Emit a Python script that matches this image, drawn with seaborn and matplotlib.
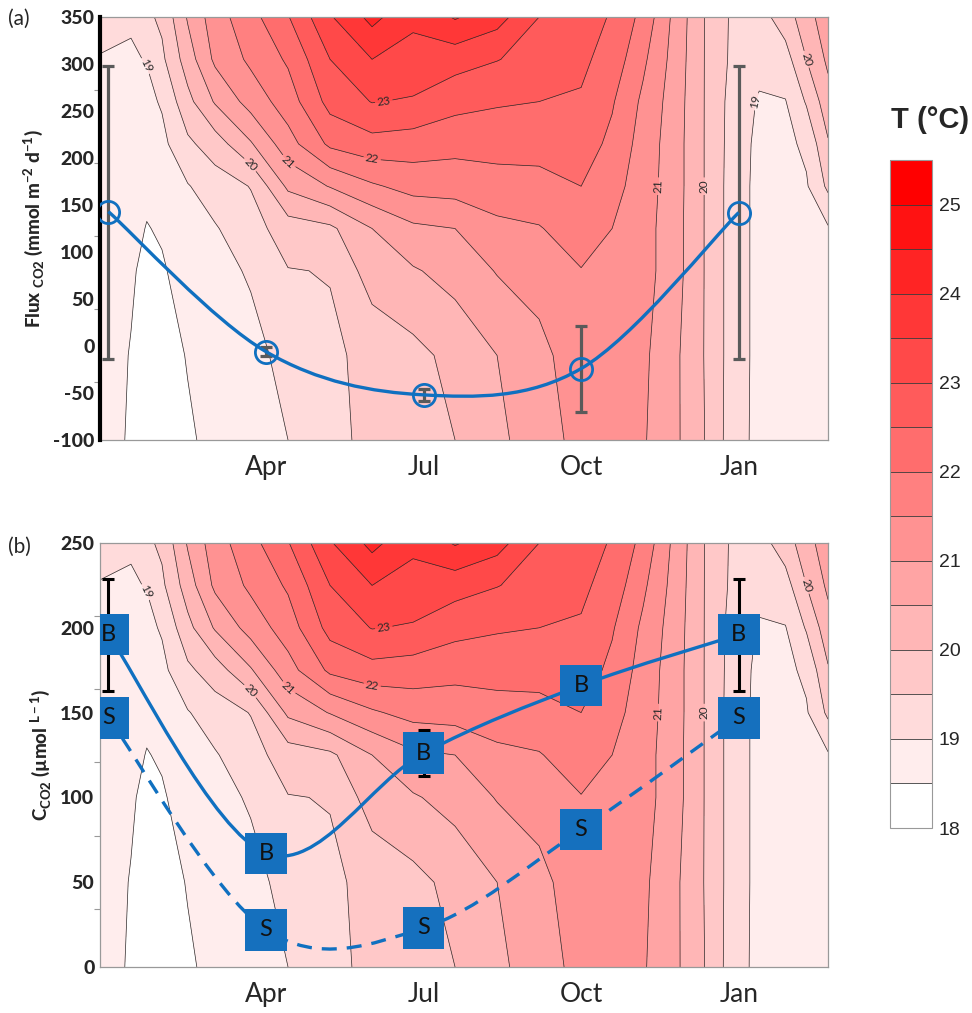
import numpy as np
import matplotlib
matplotlib.use("Agg")
import matplotlib.pyplot as plt
import seaborn as sns
from matplotlib.colors import ListedColormap, BoundaryNorm
from matplotlib.path import Path
from matplotlib.patches import PathPatch

# ---------------- data ----------------
months = [0, 3, 6, 9, 12]                 # sampling dates (months after January)
month_ticks = [3, 6, 9, 12]
month_labels = ["Apr", "Jul", "Oct", "Jan"]

flux = [143, -6, -52, -24, 142]           # Flux CO2 (mmol m-2 d-1)
flux_err_lo = [157, 5, 6, 46, 156]
flux_err_hi = [155, 5, 6, 45, 156]

c_bottom = [196, 67, 126, 166, 196]       # C CO2 bottom (B)
c_bottom_err = [33, 0, 13.5, 0, 33]
c_surface = [147, 22, 23, 81, 147]        # C CO2 surface (S)

# temperature field (deg C): columns = months, rows = relative height in panel (0 bottom, 1 top)
grid_months = [-0.16, 0.43, 0.73, 1.02, 1.51, 2.03, 2.71, 3.42, 4.22, 5.02, 5.80, 6.60,
               7.40, 8.20, 9.00, 9.59, 10.18, 10.79, 11.38, 11.88, 12.39, 12.89, 13.29, 13.70]
grid_height = [0.0, 0.2, 0.4, 0.5, 0.6, 0.7, 0.8, 0.9, 1.0]
temp_h00 = [18.7, 18.45, 18.3, 18.3, 18.45, 18.6, 18.8, 19.0, 19.37, 19.62, 19.81, 20.0, 20.38, 20.78, 21.15, 21.25, 21.05, 20.6, 19.97, 19.25, 18.85, 18.8, 18.85, 18.9]
temp_h02 = [18.7, 18.48, 18.32, 18.35, 18.52, 18.68, 18.85, 19.15, 19.42, 19.62, 19.85, 20.15, 20.5, 20.85, 21.3, 21.35, 21.1, 20.6, 19.95, 19.28, 18.85, 18.8, 18.85, 18.9]
temp_h04 = [18.75, 18.55, 18.4, 18.45, 18.7, 18.85, 19.05, 19.48, 19.52, 20.25, 20.45, 20.68, 21.03, 21.2, 21.48, 21.45, 21.2, 20.7, 19.95, 19.28, 18.85, 18.8, 18.85, 18.9]
temp_h05 = [18.78, 18.65, 18.48, 18.55, 18.82, 18.96, 19.3, 19.75, 19.9, 20.5, 20.9, 21.0, 21.38, 21.47, 21.75, 21.5, 21.2, 20.7, 19.95, 19.28, 18.85, 18.8, 18.9, 18.95]
temp_h06 = [18.8, 18.75, 18.6, 18.7, 18.97, 19.25, 19.52, 20.6, 21.03, 21.43, 21.68, 21.72, 21.78, 21.82, 22.0, 21.68, 21.25, 20.72, 19.95, 19.28, 18.85, 18.82, 18.95, 19.6]
temp_h07 = [18.85, 18.85, 18.75, 18.87, 19.4, 19.75, 20.45, 21.3, 22.1, 22.32, 22.25, 22.15, 22.2, 22.2, 22.25, 21.88, 21.3, 20.72, 19.95, 19.3, 18.87, 18.88, 19.1, 19.95]
temp_h08 = [18.9, 18.92, 18.88, 19.05, 19.85, 20.55, 21.2, 21.75, 22.67, 23.02, 22.95, 22.67, 22.55, 22.5, 22.45, 22.05, 21.4, 20.75, 19.95, 19.32, 18.95, 18.98, 19.55, 20.3]
temp_h09 = [18.97, 18.95, 19.02, 19.4, 20.25, 21.1, 21.6, 22.07, 23.0, 23.5, 23.33, 23.2, 23.02, 22.8, 22.6, 22.3, 21.6, 20.8, 19.95, 19.4, 19.15, 19.3, 20.0, 20.6]
temp_h10 = [19.2, 19.05, 19.4, 19.6, 20.55, 21.27, 21.83, 22.47, 23.45, 24.15, 23.6, 24.05, 23.7, 23.0, 22.75, 22.45, 21.85, 20.85, 19.95, 19.42, 19.3, 19.75, 20.3, 20.8]

temp_levels = list(np.arange(18.0, 25.51, 0.5))
label_levels = [19, 20, 21, 22, 23]
cbar_ticks = [18, 19, 20, 21, 22, 23, 24, 25]
right_tick_height = [0.137, 0.31, 0.483, 0.656, 0.828]

# ---------------- style ----------------
sns.set_theme(style="white")
plt.rcParams["font.family"] = ["Lato", "DejaVu Sans"]
plt.rcParams["mathtext.fontset"] = "custom"
plt.rcParams["mathtext.rm"] = "Lato"
plt.rcParams["mathtext.bf"] = "Lato:black"
plt.rcParams["axes.unicode_minus"] = False

BLUE = "#1070C0"
SQ = "#1570BE"
FRAME = "#999999"

temp_field = np.array([temp_h00, temp_h02, temp_h04, temp_h05, temp_h06,
                       temp_h07, temp_h08, temp_h09, temp_h10])
nbins = len(temp_levels) - 1
colors = [(1.0, 1.0 - i / (nbins - 1), 1.0 - i / (nbins - 1)) for i in range(nbins)]
cmap = ListedColormap(colors)
norm = BoundaryNorm(temp_levels, cmap.N)


def smooth_path(xs, ys):
    pts = np.column_stack([xs, ys]).astype(float)
    n = len(pts)
    verts = [pts[0]]
    codes = [Path.MOVETO]
    for i in range(n - 1):
        p0 = pts[i - 1] if i > 0 else pts[i]
        p1, p2 = pts[i], pts[i + 1]
        p3 = pts[i + 2] if i + 2 < n else pts[i + 1]
        verts += [p1 + (p2 - p0) / 6.0, p2 - (p3 - p1) / 6.0, p2]
        codes += [Path.CURVE4] * 3
    return Path(verts, codes)


fig = plt.figure(figsize=(9.72, 10.13), dpi=100)
axA = fig.add_axes([0.10288, 0.56565, 0.74897, 0.41757])
axB = fig.add_axes([0.10288, 0.04541, 0.74897, 0.41856])


def background(ax):
    cf = ax.contourf(grid_months, grid_height, temp_field, levels=temp_levels,
                     cmap=cmap, norm=norm)
    cs = ax.contour(grid_months, grid_height, temp_field, levels=temp_levels[1:-1],
                    colors="#2a2a2a", linewidths=0.5)
    ax.clabel(cs, levels=label_levels, fmt="%d", fontsize=8.5, inline=True,
              inline_spacing=2)
    ax.set_xlim(grid_months[0], grid_months[-1])
    ax.set_ylim(0, 1)
    ax.set_xticks(month_ticks)
    ax.set_xticklabels(month_labels, fontsize=19)
    ax.tick_params(axis="x", length=0, pad=11)
    ax.yaxis.tick_right()
    ax.set_yticks(right_tick_height)
    ax.set_yticklabels([])
    ax.tick_params(axis="y", direction="out", length=4, width=0.8, color=FRAME)
    for s in ["top", "right", "bottom"]:
        ax.spines[s].set_color(FRAME)
        ax.spines[s].set_linewidth(0.9)
    ax.spines["left"].set_visible(False)
    tw = ax.twinx()
    tw.yaxis.tick_left()
    tw.yaxis.set_label_position("left")
    for s in ["top", "right", "bottom"]:
        tw.spines[s].set_visible(False)
    return cf, tw


# ---------------- panel (a) ----------------
cfA, twA = background(axA)
twA.set_ylim(-100, 350)
twA.set_yticks(np.arange(-100, 351, 50))
twA.tick_params(axis="y", length=0, pad=4, labelsize=14)
for t in twA.get_yticklabels():
    t.set_fontweight("black")
twA.spines["left"].set_color("black")
twA.spines["left"].set_linewidth(3)
twA.set_ylabel(r"Flux$_{\mathbf{\ CO2}}$ (mmol m$^{\mathbf{-2}}$ d$^{\mathbf{-1}}$)",
               fontsize=13.5, fontweight="black", labelpad=5)
twA.errorbar(months, flux, yerr=[flux_err_lo, flux_err_hi], fmt="none",
             ecolor="#5a5a5a", elinewidth=2.3, capsize=4.5, capthick=2.3, zorder=2)
twA.add_patch(PathPatch(smooth_path(months, flux), fill=False, edgecolor=BLUE,
                        linewidth=2.4, zorder=3))
twA.plot(months, flux, linestyle="none", marker="o", ms=16, mfc="none",
         mec=BLUE, mew=2.0, zorder=4)

# ---------------- panel (b) ----------------
cfB, twB = background(axB)
twB.set_ylim(0, 250)
twB.set_yticks(np.arange(0, 251, 50))
twB.tick_params(axis="y", length=0, pad=4, labelsize=14)
for t in twB.get_yticklabels():
    t.set_fontweight("black")
twB.spines["left"].set_color(FRAME)
twB.spines["left"].set_linewidth(0.9)
twB.set_ylabel(r"C$_{\mathbf{CO2}}$ (µmol $^{\mathbf{L-1}}$)",
               fontsize=13.5, fontweight="black", labelpad=5)
twB.errorbar(months, c_bottom, yerr=c_bottom_err, fmt="none", ecolor="black",
             elinewidth=2.2, capsize=4.5, capthick=2.2, zorder=2)
twB.add_patch(PathPatch(smooth_path(months, c_bottom), fill=False, edgecolor=BLUE,
                        linewidth=2.4, zorder=3))
twB.add_patch(PathPatch(smooth_path(months, c_surface), fill=False, edgecolor=BLUE,
                        linewidth=2.4, linestyle=(0, (4.5, 3)), zorder=3))
sns.scatterplot(x=months, y=c_bottom, ax=twB, marker="s", s=900, color=SQ,
                edgecolor="none", linewidth=0, zorder=5, legend=False)
sns.scatterplot(x=months, y=c_surface, ax=twB, marker="s", s=900, color=SQ,
                edgecolor="none", linewidth=0, zorder=5, legend=False)
for xm, yv in zip(months, c_bottom):
    twB.text(xm, yv, "B", ha="center", va="center", fontsize=17, color="#111111", zorder=6)
for xm, yv in zip(months, c_surface):
    twB.text(xm, yv, "S", ha="center", va="center", fontsize=17, color="#111111", zorder=6)

# panel letters
fig.text(0.008, 0.981, "(a)", fontsize=15, va="center", ha="left")
fig.text(0.008, 0.460, "(b)", fontsize=15, va="center", ha="left")

# ---------------- colorbar ----------------
cax = fig.add_axes([0.9156, 0.1826, 0.0432, 0.6594])
cb = fig.colorbar(cfA, cax=cax, ticks=cbar_ticks, drawedges=True)
cax.minorticks_off()
cb.outline.set_edgecolor(FRAME)
cb.outline.set_linewidth(0.8)
cb.dividers.set_color("#3a3a3a")
cb.dividers.set_linewidth(0.6)
cax.tick_params(length=0, pad=5, labelsize=14)
for t in cax.get_yticklabels():
    t.set_family("Liberation Sans")
fig.text(0.957, 0.882, "T (°C)", ha="center", va="center", fontsize=21,
         fontweight="bold", family="Liberation Sans")

fig.savefig("out.png", dpi=100)
